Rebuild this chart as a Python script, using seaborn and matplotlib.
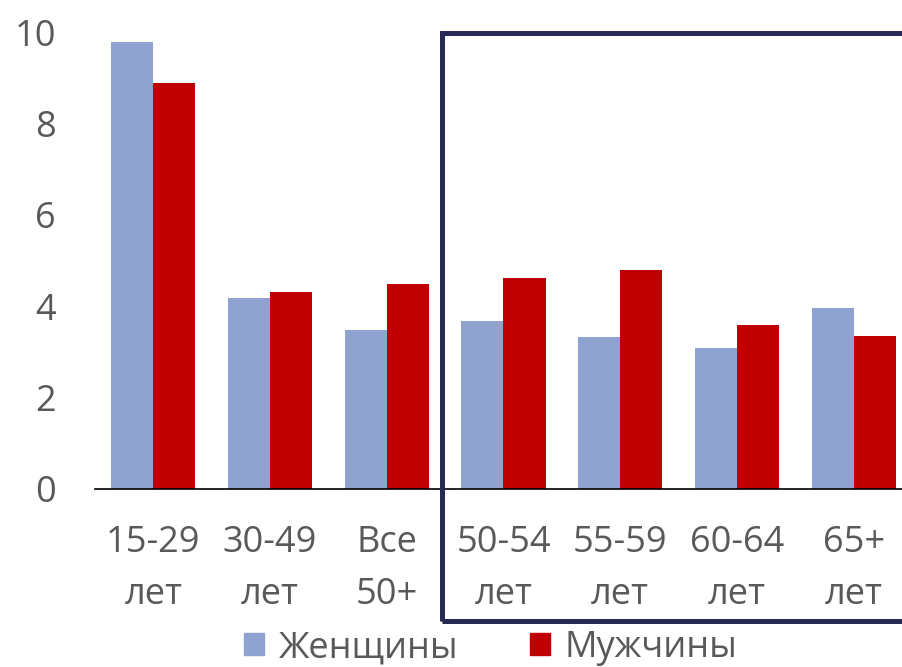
import matplotlib
matplotlib.use("Agg")
import matplotlib.pyplot as plt
import matplotlib.patches as mpatches
import pandas as pd
import seaborn as sns

categories = ["15-29\nлет", "30-49\nлет", "Все\n50+", "50-54\nлет", "55-59\nлет", "60-64\nлет", "65+\nлет"]
women = [9.78, 4.17, 3.49, 3.67, 3.32, 3.08, 3.97]
men = [8.89, 4.30, 4.48, 4.61, 4.80, 3.58, 3.34]
series = ["Женщины", "Мужчины"]
colors = ["#8FA3D1", "#C00000"]

sns.set_style("white")
plt.rcParams["font.family"] = ["Open Sans", "DejaVu Sans"]
text_color = "#595959"

df = pd.DataFrame({
    "group": categories * 2,
    "value": women + men,
    "sex": [series[0]] * len(categories) + [series[1]] * len(categories),
})

fig = plt.figure(figsize=(9.02, 6.67), dpi=100)
ax = fig.add_axes([95 / 902, (667 - 489) / 667, 817 / 902, (489 - 32) / 667])

sns.barplot(data=df, x="group", y="value", hue="sex", palette=colors,
            width=0.72, gap=0, saturation=1, linewidth=0, ax=ax, legend=False)

ax.set_ylim(0, 10)
ax.set_xlim(-0.5, len(categories) - 0.5)
ax.set_yticks([0, 2, 4, 6, 8, 10])
ax.set_xlabel("")
ax.set_ylabel("")
for s in ["top", "right", "left"]:
    ax.spines[s].set_visible(False)
ax.spines["bottom"].set_color("#000000")
ax.spines["bottom"].set_linewidth(1.2)
ax.tick_params(axis="y", length=0, pad=28, labelsize=26, labelcolor=text_color)
ax.tick_params(axis="x", length=0, pad=26, labelsize=26, labelcolor=text_color)
for lbl in ax.get_xticklabels():
    lbl.set_linespacing(1.6)

# рамка вокруг групп 50+
rect = mpatches.Rectangle((442 / 902, (667 - 621) / 667), 0.55, (621 - 33) / 667,
                          transform=fig.transFigure, fill=False,
                          edgecolor="#262A55", linewidth=3.6, clip_on=False)
fig.patches.append(rect)

handles = [mpatches.Patch(color=c, label=l) for c, l in zip(colors, series)]
fig.legend(handles=handles, loc="center", bbox_to_anchor=(491 / 902, (667 - 648) / 667),
           ncol=2, frameon=False, fontsize=26, labelcolor=text_color,
           handlelength=0.55, handleheight=0.55, handletextpad=0.4,
           columnspacing=2.0, borderpad=0)

fig.savefig("out.png", dpi=100)
